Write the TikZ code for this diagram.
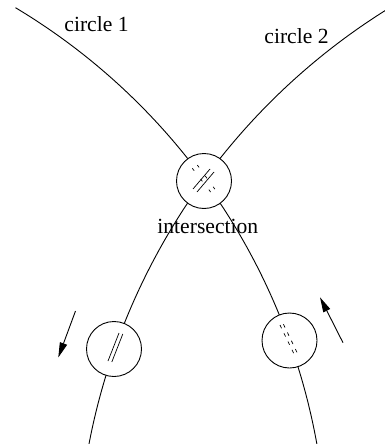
\documentclass[tikz,border=0pt]{standalone}
\usepackage{fontspec}
\setmainfont{Liberation Serif}
\usetikzlibrary{arrows.meta}

\begin{document}
\begin{tikzpicture}[x=1pt, y=-1pt, line width=0.9pt,
    ring/.style={circle, draw, fill=white, minimum size=55pt, inner sep=0pt},
    lbl/.style={font=\fontsize{21.6}{26}\selectfont, inner sep=0pt, anchor=base},
    solidmark/.style={line width=0.7pt},
    dashmark/.style={line width=0.7pt, dash pattern=on 3.6pt off 5.6pt},
    widedash/.style={line width=0.7pt, dash pattern=on 3pt off 10.5pt},
    dir/.style={-{Triangle[length=15pt,width=7.5pt]}}]
    \useasboundingbox (0,0) rectangle (385,444);
    \clip (0,0) rectangle (385,444);

    % the two circle arcs
    \coordinate (c1) at (-314,557.5);
    \coordinate (c2) at (735.7,568);
    \draw (c1) ++(-59.07:641) arc[start angle=-59.07, end angle=-9, radius=641];
    \draw (c2) ++(-121:658.5) arc[start angle=-121, end angle=-171, radius=658.5];

    % small circles on the arcs
    \node[ring] (isect) at (204,181) {};
    \node[ring] (lowleft) at (114,349) {};
    \node[ring] (lowright) at (289.5,340.5) {};

    % marks inside the circles
    \begin{scope}[shift={(isect)}]
        \draw[solidmark] (-11,8) -- (6,-12);
        \draw[solidmark] (-7,11) -- (10,-9);
        \draw[widedash] (-11.7,-12.7) -- (7,11.5);
        \draw[widedash] (-6.7,-16) -- (11,8.3);
    \end{scope}
    \begin{scope}[shift={(lowleft)}]
        \draw[solidmark] (5,-16) -- (-6,12);
        \draw[solidmark] (8.8,-15) -- (-2.2,13);
    \end{scope}
    \begin{scope}[shift={(lowright)}]
        \draw[dashmark] (-9.5,-15.5) -- (4.5,13.5);
        \draw[dashmark] (-6.1,-16.3) -- (7.9,12.7);
    \end{scope}

    % direction arrows
    \coordinate (ltail) at (75.5,311);
    \coordinate (ltip) at (58.3,357.5);
    \draw[dir] (ltail) -- (ltip);
    \coordinate (rtail) at (343,342.7);
    \coordinate (rtip) at (320,297.3);
    \draw[dir] (rtail) -- (rtip);

    % labels
    \node[lbl] (c1label) at (96.5,31.7) {circle 1};
    \node[lbl] (c2label) at (296.5,43.3) {circle 2};
    \node[lbl] (isectlabel) at (207.8,233) {intersection};
\end{tikzpicture}
\end{document}
